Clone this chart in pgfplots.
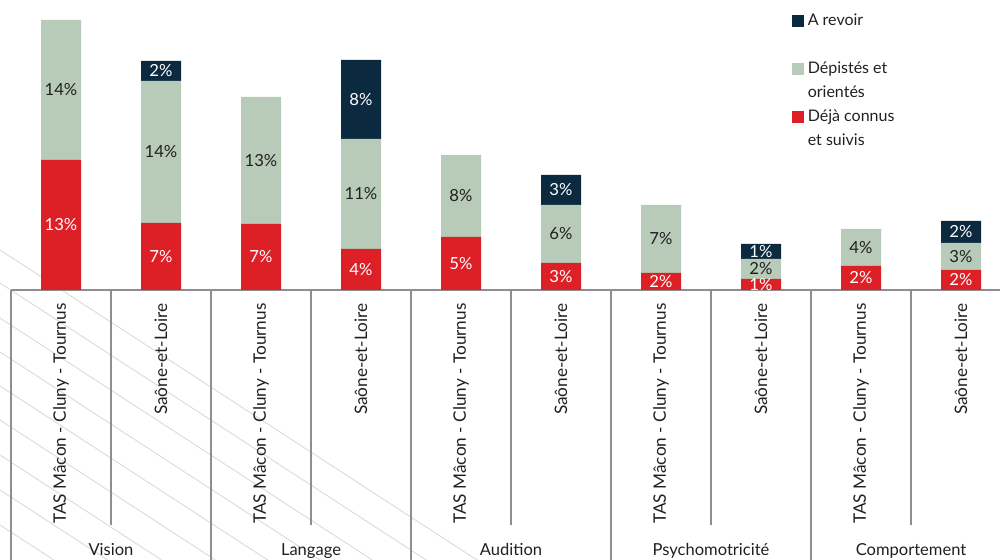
\documentclass[border=0pt]{standalone}
\usepackage{pgfplots}
\pgfplotsset{compat=1.18}
\usepackage{fontspec}
\setmainfont{Lato}
\definecolor{cred}{HTML}{DD1F26}
\definecolor{cgreen}{HTML}{B7CBB8}
\definecolor{cnavy}{HTML}{0B2A40}
\definecolor{cgray}{HTML}{8E8E8E}
\definecolor{ctext}{HTML}{231F20}
\definecolor{cdeco}{HTML}{E2DACF}
\begin{document}
\begin{tikzpicture}[x=0.75pt,y=0.75pt]
\path[use as bounding box, clip] (0,0) rectangle (1000,560);
% decorative background lines
\foreach \b in {250,283,318,352,386,420,455,490,525}{
  \draw[cdeco, line width=0.7pt] (0,560-\b) -- ({(560-\b)/0.65},0);
}
\begin{axis}[
  at={(11,270)}, anchor=south west, scale only axis,
  width=750pt, height=217.5pt,
  xmin=-0.5, xmax=9.5, ymin=0, ymax=29,
  ybar stacked, bar width=30pt,
  axis line style={draw=none},
  ytick=\empty,
  xtick={0,...,9},
  xticklabels={TAS Mâcon - Cluny - Tournus, Saône-et-Loire, TAS Mâcon - Cluny - Tournus, Saône-et-Loire, TAS Mâcon - Cluny - Tournus, Saône-et-Loire, TAS Mâcon - Cluny - Tournus, Saône-et-Loire, TAS Mâcon - Cluny - Tournus, Saône-et-Loire},
  major tick length=0pt,
  xticklabel style={rotate=90, anchor=east, inner xsep=10pt, font=\fontsize{12.9}{15}\selectfont, text=ctext},
  clip=false,
]
\addplot[fill=cred, draw=none] coordinates {(0,13.0) (1,6.7) (2,6.6) (3,4.1) (4,5.3) (5,2.7) (6,1.7) (7,1.1) (8,2.4) (9,2.0)};
\addplot[fill=cgreen, draw=none] coordinates {(0,14.0) (1,14.2) (2,12.7) (3,11.0) (4,8.2) (5,5.8) (6,6.8) (7,2.0) (8,3.7) (9,2.7)};
\addplot[fill=cnavy, draw=none] coordinates {(0,0) (1,2.0) (2,0) (3,7.9) (4,0) (5,3.0) (6,0) (7,1.5) (8,0) (9,2.2)};
\draw[white, opacity=0.3, line width=0.6pt] (axis cs:-0.5,0.9) -- (axis cs:9.5,0.9);
\draw[cgray, line width=1.5pt] (axis cs:-0.5,0) -- (axis cs:9.5,0);
\pgfplotsinvokeforeach{-0.5,1.5,3.5,5.5,7.5,9.5}{
  \draw[cgray, line width=1.2pt] (axis cs:#1,0) -- ++(0pt,-210pt);
}
\pgfplotsinvokeforeach{0.5,2.5,4.5,6.5,8.5}{
  \draw[cgray, line width=1.2pt] (axis cs:#1,0) -- ++(0pt,-176.25pt);
}
\node[anchor=base, font=\fontsize{12.4}{14}\selectfont, text=ctext, yshift=-198.75pt] at (axis cs:0.5,0) {Vision};
\node[anchor=base, font=\fontsize{12.4}{14}\selectfont, text=ctext, yshift=-198.75pt] at (axis cs:2.5,0) {Langage};
\node[anchor=base, font=\fontsize{12.4}{14}\selectfont, text=ctext, yshift=-198.75pt] at (axis cs:4.5,0) {Audition};
\node[anchor=base, font=\fontsize{12.4}{14}\selectfont, text=ctext, yshift=-198.75pt] at (axis cs:6.5,0) {Psychomotricité};
\node[anchor=base, font=\fontsize{12.4}{14}\selectfont, text=ctext, yshift=-198.75pt] at (axis cs:8.5,0) {Comportement};
\end{axis}
\begin{axis}[
  at={(11,270)}, anchor=south west, scale only axis,
  width=750pt, height=217.5pt,
  xmin=-0.5, xmax=9.5, ymin=0, ymax=29,
  hide axis, clip=false,
  point meta=explicit symbolic,
  nodes near coords,
  every node near coord/.append style={anchor=center, font=\fontsize{12.5}{14}\selectfont},
  legend style={at={(rel axis cs:0.781,0.953)}, anchor=north west, draw=none, fill=none, inner sep=0pt,
    row sep=6pt, font=\fontsize{12}{14}\selectfont, text=ctext,
    cells={anchor=base west},
    nodes={inner xsep=3pt, inner ysep=0pt, text height=9pt, text depth=3pt}},
]
\addplot[forget plot, draw=none, mark=none, every node near coord/.append style={text=white}] coordinates {(0,6.5)[13\%] (1,3.35)[7\%] (2,3.3)[7\%] (3,2.05)[4\%] (4,2.65)[5\%] (5,1.35)[3\%] (6,0.85)[2\%] (7,0.55)[1\%] (8,1.2)[2\%] (9,1.0)[2\%]};
\addplot[forget plot, draw=none, mark=none, every node near coord/.append style={text=ctext}] coordinates {(0,20.0)[14\%] (1,13.8)[14\%] (2,12.95)[13\%] (3,9.6)[11\%] (4,9.4)[8\%] (5,5.6)[6\%] (6,5.1)[7\%] (7,2.1)[2\%] (8,4.25)[4\%] (9,3.35)[3\%]};
\addplot[forget plot, draw=none, mark=none, every node near coord/.append style={text=white}] coordinates {(1,21.9)[2\%] (3,19.05)[8\%] (5,10.0)[3\%] (7,3.85)[1\%] (9,5.8)[2\%]};
\addlegendimage{legend image code/.code={\fill[cnavy] (0pt,0pt) rectangle (8.25pt,8.25pt);}}
\addlegendentry{A revoir}
\addlegendimage{empty legend}
\addlegendentry{}
\addlegendimage{legend image code/.code={\fill[cgreen] (0pt,0pt) rectangle (8.25pt,8.25pt);}}
\addlegendentry{Dépistés et}
\addlegendimage{empty legend}
\addlegendentry{orientés}
\addlegendimage{legend image code/.code={\fill[cred] (0pt,0pt) rectangle (8.25pt,8.25pt);}}
\addlegendentry{Déjà connus}
\addlegendimage{empty legend}
\addlegendentry{et suivis}
\end{axis}
\end{tikzpicture}
\end{document}
